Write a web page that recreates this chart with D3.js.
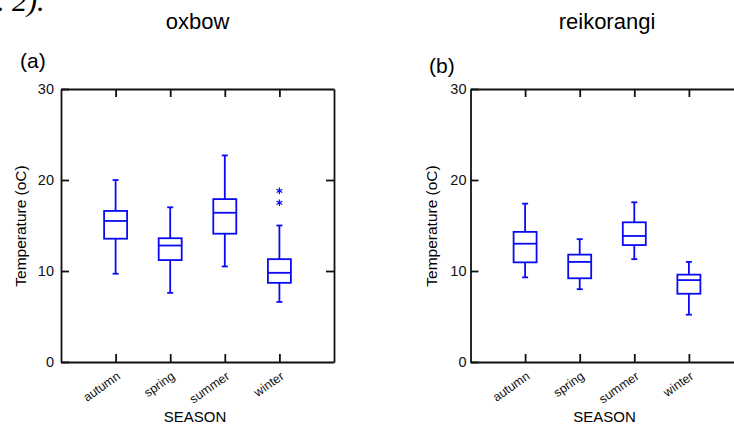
<!DOCTYPE html>
<html>
<head>
<meta charset="utf-8">
<script src="https://cdn.jsdelivr.net/npm/d3@7"></script>
<style>
  body { margin: 0; background: #fff; }
  text { font-family: "Liberation Sans", Arial, sans-serif; }
</style>
</head>
<body>
<script>
var seasons = ["autumn", "spring", "summer", "winter"];
var yTicks = [0, 10, 20, 30];

// oxbow: whisker ends, quartiles and median per season
var oxbowLow = [9.7, 7.6, 10.5, 6.6];
var oxbowQ1 = [13.55, 11.2, 14.1, 8.7];
var oxbowMed = [15.5, 12.8, 16.4, 9.8];
var oxbowQ3 = [16.6, 13.6, 17.9, 11.3];
var oxbowHigh = [20.0, 17.0, 22.7, 15.0];
var oxbowOut = [[], [], [], [17.5, 18.8]];

// reikorangi
var reikLow = [9.3, 8.0, 11.3, 5.2];
var reikQ1 = [10.95, 9.2, 12.85, 7.5];
var reikMed = [13.0, 11.0, 13.85, 9.0];
var reikQ3 = [14.3, 11.8, 15.35, 9.6];
var reikHigh = [17.4, 13.5, 17.55, 11.0];
var reikOut = [[], [], [], []];

var largura = 734;
var altura = 425;

var svg = d3.select("body")
            .append("svg")
            .attr("width", largura)
            .attr("height", altura);

// leftover bit of the document text above the figure
svg.append("text")
   .attr("x", -3)
   .attr("y", 11)
   .style("font-family", "'Liberation Serif', 'Times New Roman', serif")
   .style("font-style", "italic")
   .style("font-size", "30px")
   .text(". 2).");

function montar(low, q1, med, q3, high, out) {
  return seasons.map(function(s, i) {
    return { season: s, low: low[i], q1: q1[i], med: med[i], q3: q3[i], high: high[i], out: out[i] };
  });
}

function desenharPainel(cfg) {
  var x = d3.scalePoint()
            .domain(seasons)
            .range([cfg.x0, cfg.x0 + 273])
            .padding(1);

  var y = d3.scaleLinear()
            .domain([0, 30])
            .range([362, 89]);

  var g = svg.append("g");

  var eixoEsq = g.append("g")
                 .attr("transform", "translate(" + cfg.x0 + ",0)")
                 .call(d3.axisLeft(y).tickValues(yTicks).tickSize(-8).tickSizeOuter(0).tickPadding(cfg.pad));
  var eixoDir = g.append("g")
                 .attr("transform", "translate(" + (cfg.x0 + 273) + ",0)")
                 .call(d3.axisRight(y).tickValues([10, 20]).tickSize(-8).tickSizeOuter(0).tickFormat(""));
  var eixoTopo = g.append("g")
                  .attr("transform", "translate(0,89)")
                  .call(d3.axisTop(x).tickSize(-8).tickSizeOuter(0).tickFormat(""));
  var eixoBase = g.append("g")
                  .attr("transform", "translate(0,362)")
                  .call(d3.axisBottom(x).tickSize(-8).tickSizeOuter(0));

  [eixoEsq, eixoDir, eixoTopo, eixoBase].forEach(function(e) {
    e.selectAll("path, line")
     .attr("stroke", "#111")
     .attr("stroke-width", 1.8);
  });

  eixoEsq.selectAll("text")
         .attr("fill", "#111")
         .style("font-size", "14.5px")
         .style("font-family", "'Liberation Sans', Arial, sans-serif");

  eixoBase.selectAll("text")
          .attr("fill", "#111")
          .attr("y", 0)
          .attr("dy", 0)
          .attr("text-anchor", "end")
          .attr("transform", "translate(5,16) rotate(-35)")
          .style("font-size", "12.5px")
          .style("font-family", "'Liberation Sans', Arial, sans-serif");

  var caixas = g.selectAll(".caixa")
                .data(cfg.dados)
                .enter()
                .append("g")
                .attr("class", "caixa")
                .attr("fill", "none")
                .attr("stroke", "#0a0af5")
                .attr("stroke-width", 1.8);

  caixas.append("line")
        .attr("x1", function(d) { return x(d.season); })
        .attr("x2", function(d) { return x(d.season); })
        .attr("y1", function(d) { return y(d.low); })
        .attr("y2", function(d) { return y(d.high); });

  caixas.append("rect")
        .attr("x", function(d) { return x(d.season) - 11.5; })
        .attr("width", 23)
        .attr("y", function(d) { return y(d.q3); })
        .attr("height", function(d) { return y(d.q1) - y(d.q3); })
        .attr("fill", "#fff");

  caixas.append("line")
        .attr("x1", function(d) { return x(d.season) - 11.5; })
        .attr("x2", function(d) { return x(d.season) + 11.5; })
        .attr("y1", function(d) { return y(d.med); })
        .attr("y2", function(d) { return y(d.med); });

  ["low", "high"].forEach(function(k) {
    caixas.append("line")
          .attr("x1", function(d) { return x(d.season) - 3; })
          .attr("x2", function(d) { return x(d.season) + 3; })
          .attr("y1", function(d) { return y(d[k]); })
          .attr("y2", function(d) { return y(d[k]); });
  });

  caixas.selectAll(".fora")
        .data(function(d) { return d.out.map(function(v) { return { season: d.season, v: v }; }); })
        .enter()
        .append("path")
        .attr("class", "fora")
        .attr("stroke-width", 1.2)
        .attr("d", d3.symbol(d3.symbolAsterisk, 30))
        .attr("transform", function(d) { return "translate(" + x(d.season) + "," + y(d.v) + ")"; });

  g.append("text")
   .attr("x", cfg.x0 + 136.5)
   .attr("y", 29)
   .attr("text-anchor", "middle")
   .style("font-size", "22px")
   .text(cfg.titulo);

  g.append("text")
   .attr("x", cfg.letraX)
   .attr("y", cfg.letraY)
   .style("font-size", "21px")
   .text(cfg.letra);

  g.append("text")
   .attr("transform", "translate(" + cfg.rotX + ",226) rotate(-90)")
   .attr("text-anchor", "middle")
   .style("font-size", "15.5px")
   .text("Temperature (oC)");

  g.append("text")
   .attr("x", cfg.x0 + 134)
   .attr("y", 422)
   .attr("text-anchor", "middle")
   .style("font-size", "15px")
   .text("SEASON");
}

desenharPainel({
  x0: 61, pad: 7, titulo: "oxbow", letra: "(a)", letraX: 20, letraY: 68, rotX: 26,
  dados: montar(oxbowLow, oxbowQ1, oxbowMed, oxbowQ3, oxbowHigh, oxbowOut)
});

desenharPainel({
  x0: 470.5, pad: 4, titulo: "reikorangi", letra: "(b)", letraX: 429, letraY: 73, rotX: 437,
  dados: montar(reikLow, reikQ1, reikMed, reikQ3, reikHigh, reikOut)
});
</script>
</body>
</html>
